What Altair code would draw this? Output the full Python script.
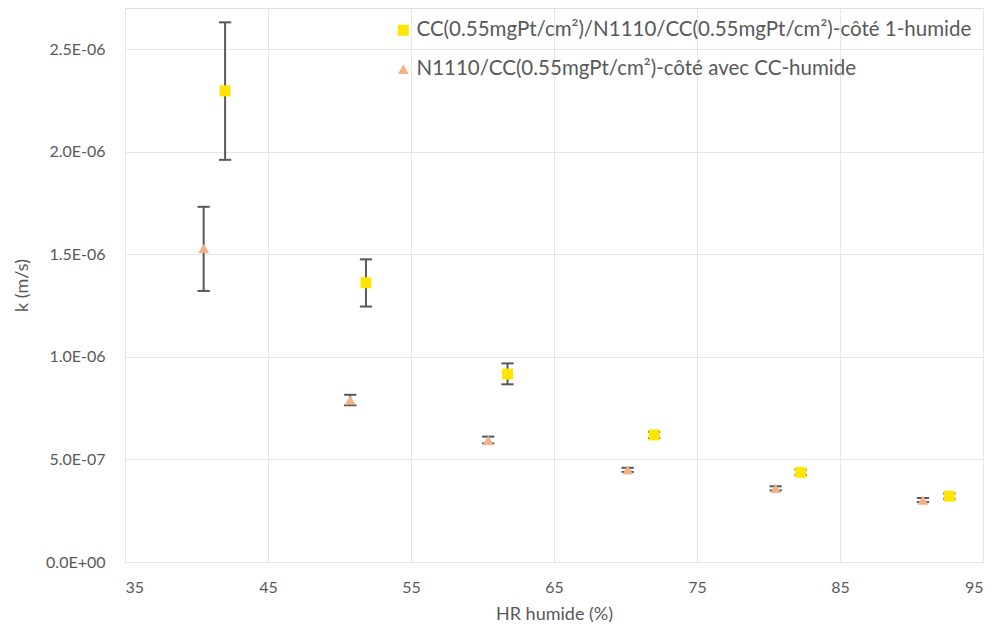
import altair as alt
import pandas as pd

# ---------------- data ----------------
s1_name = "CC(0.55mgPt/cm²)/N1110/CC(0.55mgPt/cm²)-côté 1-humide"
s2_name = "N1110/CC(0.55mgPt/cm²)-côté avec CC-humide"

s1_x = [42.0, 51.85, 61.75, 72.0, 82.25, 92.65]
s1_k = [2.296e-6, 1.361e-6, 0.916e-6, 0.619e-6, 0.437e-6, 0.321e-6]
s1_lo = [1.960e-6, 1.245e-6, 0.866e-6, 0.604e-6, 0.424e-6, 0.308e-6]
s1_hi = [2.630e-6, 1.475e-6, 0.968e-6, 0.634e-6, 0.450e-6, 0.334e-6]

s2_x = [40.5, 50.75, 60.4, 70.15, 80.5, 90.8]
s2_k = [1.528e-6, 0.789e-6, 0.594e-6, 0.449e-6, 0.359e-6, 0.302e-6]
s2_lo = [1.321e-6, 0.764e-6, 0.578e-6, 0.439e-6, 0.349e-6, 0.292e-6]
s2_hi = [1.731e-6, 0.815e-6, 0.611e-6, 0.459e-6, 0.369e-6, 0.312e-6]

x_ticks = [35, 45, 55, 65, 75, 85, 95]
y_ticks = [0.0, 5e-7, 1e-6, 1.5e-6, 2e-6, 2.5e-6]
y_tick_labels = ["0.0E+00", "5.0E-07", "1.0E-06", "1.5E-06", "2.0E-06", "2.5E-06"]

colors = ["#FFE600", "#F4B183"]
shapes = ["square", "triangle-up"]

# ---------------- frames ----------------
rows = []
for name, xs, ks, los, his in [(s1_name, s1_x, s1_k, s1_lo, s1_hi),
                               (s2_name, s2_x, s2_k, s2_lo, s2_hi)]:
    for x, k, lo, hi in zip(xs, ks, los, his):
        rows.append({"series": name, "hr": x, "k": k, "lo": lo, "hi": hi})
df = pd.DataFrame(rows)
caps = pd.concat([
    df[["series", "hr", "lo"]].rename(columns={"lo": "yc"}),
    df[["series", "hr", "hi"]].rename(columns={"hi": "yc"}),
])

label_expr = ""
for v, lab in zip(y_ticks, y_tick_labels):
    label_expr += f"abs(datum.value - ({v})) < 1e-12 ? '{lab}' : "
label_expr += "''"

FONT = "Lato"
GREY = "#595959"

axis_style = dict(grid=True, gridColor="#E6E6E6", gridWidth=1, ticks=False, domain=False,
                  labelFont=FONT, titleFont=FONT, labelFontSize=16, titleFontSize=18,
                  labelColor=GREY, titleColor=GREY, titleFontWeight="normal")

xscale = alt.Scale(domain=[35, 95], nice=False, zero=False)
yscale = alt.Scale(domain=[0, 2.7e-6], nice=False)

xaxis = alt.Axis(values=x_ticks, title="HR humide (%)", labelPadding=17, titlePadding=10,
                 **axis_style)
yaxis = alt.Axis(values=y_ticks, title="k (m/s)", labelExpr=label_expr, labelPadding=20,
                 titlePadding=14, **axis_style)

base = alt.Chart(df)

bars = base.mark_rule(color="#595959", strokeWidth=2).encode(
    x=alt.X("hr:Q", scale=xscale, axis=xaxis),
    y=alt.Y("lo:Q", scale=yscale, axis=yaxis),
    y2="hi:Q",
)

capmarks = alt.Chart(caps).mark_point(
    shape="M-1,0L1,0", filled=False, stroke="#595959", strokeWidth=2, size=150, opacity=1
).encode(
    x=alt.X("hr:Q", scale=xscale),
    y=alt.Y("yc:Q", scale=yscale),
)

points = base.mark_point(filled=True, opacity=1).encode(
    x=alt.X("hr:Q", scale=xscale),
    y=alt.Y("k:Q", scale=yscale),
    color=alt.Color("series:N", scale=alt.Scale(domain=[s1_name, s2_name], range=colors),
                    legend=alt.Legend(title=None, orient="none", legendX=268, legendY=12,
                                      symbolSize=80, labelFontSize=20.5, labelFont=FONT,
                                      labelColor=GREY, rowPadding=18, labelLimit=700,
                                      symbolStrokeWidth=0, labelOffset=3)),
    shape=alt.Shape("series:N", scale=alt.Scale(domain=[s1_name, s2_name], range=shapes),
                    legend=None),
    size=alt.Size("series:N", scale=alt.Scale(domain=[s1_name, s2_name], range=[120, 115]),
                  legend=None),
)

chart = alt.layer(bars, capmarks, points).properties(
    width=858,
    height=554,
    autosize=alt.AutoSizeParams(type="none"),
    padding={"left": 117, "top": 0, "right": 4, "bottom": 60},
).configure_view(
    stroke="#BFBFBF", strokeWidth=1
).configure(background="white")

chart.save("out.html", embed_options={"renderer": "svg", "actions": False})
